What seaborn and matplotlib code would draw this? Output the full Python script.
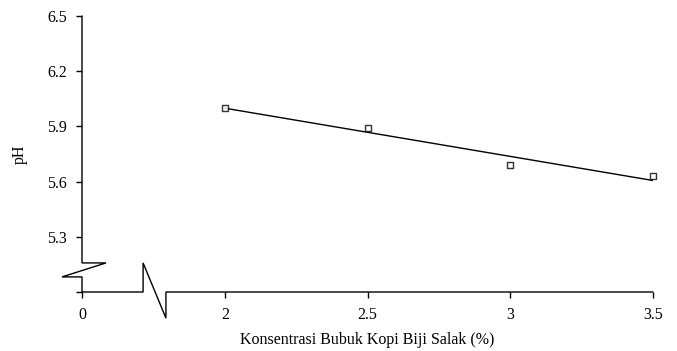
import matplotlib
matplotlib.use("Agg")
import matplotlib.pyplot as plt
import seaborn as sns
import pandas as pd

# Measured pH for each coffee-powder concentration
konsentrasi = [2.0, 2.5, 3.0, 3.5]
ph = [6.00, 5.89, 5.69, 5.63]

y_ticks = [5.0, 5.3, 5.6, 5.9, 6.2, 6.5]
y_tick_labels = ["", "5.3", "5.6", "5.9", "6.2", "6.5"]
x_ticks = [1.5, 2.0, 2.5, 3.0, 3.5]
x_tick_labels = ["0", "2", "2.5", "3", "3.5"]

df = pd.DataFrame({"Konsentrasi": konsentrasi, "pH": ph})

sns.set_theme(style="white")
plt.rcParams["font.family"] = ["Liberation Serif", "DejaVu Serif"]

fig = plt.figure(figsize=(6.77, 3.51), dpi=100)
ax = fig.add_axes([82 / 677, 1 - 292 / 351, (653 - 82) / 677, (292 - 16) / 351])

sns.regplot(
    data=df, x="Konsentrasi", y="pH", ax=ax, ci=None, marker="s",
    scatter_kws=dict(s=24, facecolors="white", edgecolors="black", linewidths=1.0, zorder=3),
    line_kws=dict(color="black", lw=1.0),
)
for coll in ax.collections:
    coll.set_clip_on(False)

ax.set_xlim(1.5, 3.5)
ax.set_ylim(5.0, 6.5)

# Draw the axes by hand so both can show a break symbol
for side in ("left", "bottom", "top", "right"):
    ax.spines[side].set_visible(False)

axis_kw = dict(color="black", lw=1.0, clip_on=False, solid_joinstyle="miter")
# vertical axis with break between 5.0 and 5.3
ax.plot([1.5, 1.5, 1.584, 1.430, 1.5, 1.5],
        [6.5, 5.158, 5.158, 5.082, 5.082, 5.0], **axis_kw)
# horizontal axis with break between 0 and 2
ax.plot([1.5, 1.714, 1.714, 1.794, 1.794, 3.5],
        [5.0, 5.0, 5.158, 4.858, 5.0, 5.0], **axis_kw)

ax.set_xticks(x_ticks)
ax.set_xticklabels(x_tick_labels)
ax.set_yticks(y_ticks)
ax.set_yticklabels(y_tick_labels)
ax.tick_params(axis="both", direction="out", length=4, width=1.0, color="black",
               labelsize=11.5, labelcolor="black")
ax.tick_params(axis="y", pad=7)
ax.tick_params(axis="x", pad=6.5)
ax.tick_params(left=True, bottom=True)

ax.set_xlabel("Konsentrasi Bubuk Kopi Biji Salak (%)", fontsize=11.5, color="black", labelpad=6.5)
ax.set_ylabel("pH", fontsize=11.5, color="black", labelpad=13.5)

fig.savefig("out.png", dpi=100, facecolor="white")
